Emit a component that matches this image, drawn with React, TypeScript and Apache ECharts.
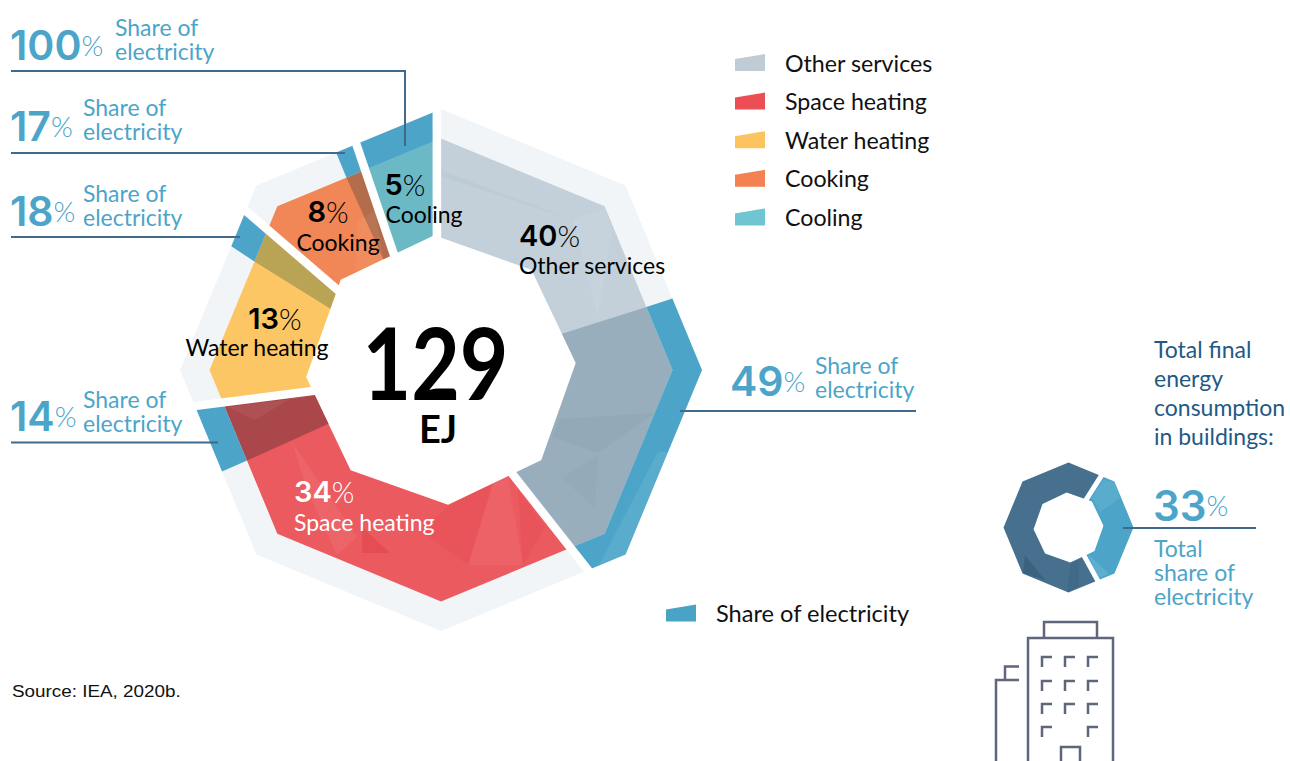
import React, { useEffect, useRef } from "react";
import * as echarts from "echarts";

// ---- data ----
const categories = ["Other services", "Space heating", "Water heating", "Cooking", "Cooling"];
const shareOfTotal = [40, 34, 13, 8, 5];
const electricityShare = [49, 14, 18, 17, 100];
// where each drawn slice actually ends on the 0-100 angle axis (outer / inner edge)
const sliceEndsOuter = [39.94, 72.67, 85.86, 94.28, 99.72];
const sliceEndsInner = [40.5, 72.36, 85.39, 93.78, 99.44];
const totalEJ = "129";
const buildingsShares = [33, 67];

const bandColors = ["#c3d0da", "#eb5a5f", "#fbc663", "#f18656", "#6cb9c6"];
const overlapColors = ["#99aebd", "#a9474a", "#b9a354", "#b46d4c", "#6cb9c6"];
const legendColors = ["#bfccd6", "#ec4e55", "#fbc45f", "#f38151", "#6fc5d1"];
const BLUE = "#4ca5c9";
const RIM = "#f1f5f8";
const SLATE = "#47708f";
const LEADER = "#41698c";
const FONT = "Lato, 'Noto Sans', sans-serif";
const NUMFONT = "Inter, Lato, sans-serif";

// ---- octagon geometry on a polar axis (angle axis runs 0-100) ----
const COS = Math.cos((22.5 * Math.PI) / 180);
function octR(a: number, R: number, rot: number) {
  const rel = (((a - rot) % 12.5) + 12.5) % 12.5;
  return (R * COS) / Math.cos(((rel - 6.25) * 3.6 * Math.PI) / 180);
}
function edge(a0: number, a1: number, R: number, rot: number) {
  const pts: number[][] = [[octR(a0, R, rot), a0]];
  const kStart = Math.floor((a0 - rot) / 12.5) + 1;
  for (let k = kStart; k * 12.5 + rot < a1; k++) pts.push([R, k * 12.5 + rot]);
  pts.push([octR(a1, R, rot), a1]);
  return pts;
}
function ring(api: any, a0o: number, a1o: number, Ro: number, rotO: number, a0i: number, a1i: number, Ri: number, rotI: number) {
  const outer = edge(a0o, a1o, Ro, rotO);
  const inner = edge(a0i, a1i, Ri, rotI).reverse();
  return outer.concat(inner).map((p) => api.coord(p));
}

const R_RIM = 261, R_BAND = 231.5, R_IN = 135, ROT_IN = -0.83;
const starts = (ends: number[]) => ends.map((_, i) => (i === 0 ? ends[4] - 100 : ends[i - 1]));
const startO = starts(sliceEndsOuter);
const startI = starts(sliceEndsInner);
const at = (a: number[], b: number[], i: number, r: number) => {
  const t = (r - R_IN) / (R_RIM - R_IN);
  return b[i] + (a[i] - b[i]) * t;
};

function bandItem(i: number) {
  return (_p: any, api: any) => {
    const share = api.value(1) / 100;
    const a0o = at(startO, startI, i, R_BAND), a1o = at(sliceEndsOuter, sliceEndsInner, i, R_BAND);
    const a0i = startI[i], a1i = sliceEndsInner[i];
    const children: any[] = [
      { type: "polygon", shape: { points: ring(api, a0o, a1o, R_BAND, 0, a0i, a1i, R_IN, ROT_IN) }, style: { fill: bandColors[i] } },
      {
        type: "polygon",
        shape: { points: ring(api, a1o - share * (a1o - a0o), a1o, R_BAND, 0, a1i - share * (a1i - a0i), a1i, R_IN, ROT_IN) },
        style: { fill: overlapColors[i] },
      },
    ];
    return { type: "group", children };
  };
}
function rimItem(_p: any, api: any) {
  const i = api.value(0);
  const a0o = startO[i], a1o = sliceEndsOuter[i];
  const a0i = at(startO, startI, i, R_BAND), a1i = at(sliceEndsOuter, sliceEndsInner, i, R_BAND);
  return { type: "polygon", shape: { points: ring(api, a0o, a1o, R_RIM, 0, a0i, a1i, R_BAND, 0) }, style: { fill: RIM } };
}
function electricRimItem(_p: any, api: any) {
  const i = api.value(0);
  const share = api.value(1) / 100;
  const a0o = startO[i], a1o = sliceEndsOuter[i];
  const a0i = at(startO, startI, i, R_BAND), a1i = at(sliceEndsOuter, sliceEndsInner, i, R_BAND);
  return {
    type: "polygon",
    shape: { points: ring(api, a1o - share * (a1o - a0o), a1o, R_RIM, 0, a1i - share * (a1i - a0i), a1i, R_BAND, 0) },
    style: { fill: BLUE },
  };
}
function gapItem(_p: any, api: any) {
  const i = api.value(0);
  const o = sliceEndsOuter[i], n = sliceEndsInner[i];
  const p0 = api.coord([R_IN - 30, n + (n - o) * (30 / (R_RIM - R_IN))]);
  const p1 = api.coord([R_RIM + 20, o + (o - n) * (20 / (R_RIM - R_IN))]);
  return { type: "line", shape: { x1: p0[0], y1: p0[1], x2: p1[0], y2: p1[1] }, style: { stroke: "#fff", lineWidth: 8.5 } };
}

// ---- small donut ----
const SR = 65, SI = 35;
function smallItem(p: any, api: any) {
  const i = p.dataIndex;
  const a0 = i === 0 ? 9 : 9 + buildingsShares[0];
  const a1 = a0 + buildingsShares[i];
  return {
    type: "polygon",
    shape: { points: ring(api, a0, a1, SR, 0, a0, a1, SI, ROT_IN) },
    style: { fill: i === 0 ? "#4ca5c9" : SLATE },
  };
}
function smallGapItem(_p: any, api: any) {
  const a = api.value(0);
  const p0 = api.coord([SI - 10, a]);
  const p1 = api.coord([SR + 5, a]);
  return { type: "line", shape: { x1: p0[0], y1: p0[1], x2: p1[0], y2: p1[1] }, style: { stroke: "#fff", lineWidth: 5 } };
}

// ---- low-poly texture, purely decorative ----
const facets: [number[][], string, number][] = [
  [[[292, 442], [357, 537], [337, 555], [307, 490]], "#ffffff", 0.06],
  [[[362, 553], [390, 553], [362, 527]], "#d9393f", 0.4],
  [[[468, 565], [493, 483], [508, 478], [523, 565]], "#ffffff", 0.05],
  [[[518, 490], [545, 527], [523, 565]], "#d9393f", 0.15],
  [[[468, 565], [493, 483], [450, 505], [420, 530]], "#d9393f", 0.15],
  [[[560, 419], [655, 413], [598, 453], [552, 437]], "#1f4763", 0.05],
  [[[562, 478], [598, 455], [595, 508]], "#1f4763", 0.035],
  [[[573, 220], [605, 208], [612, 230], [598, 317]], "#ffffff", 0.07],
  [[[440, 170], [573, 220], [440, 176]], "#1f4763", 0.03],
  [[[598, 567], [658, 452], [668, 452], [627, 555]], "#ffffff", 0.08],
  [[[357, 222], [375, 210], [385, 270], [355, 270]], "#ffffff", 0.05],
  [[[227, 407], [255, 420], [292, 398], [316, 396]], "#ffffff", 0.06],
  [[[1025, 555], [1045, 580], [1023, 573]], "#1f4763", 0.3],
  [[[1067, 592], [1071, 562], [1079, 560], [1079, 587]], "#1f4763", 0.15],
  [[[1092, 498], [1103, 480], [1115, 482], [1120, 498], [1100, 512]], "#ffffff", 0.08],
  [[[1088, 554], [1098, 578], [1109, 574]], "#ffffff", 0.1],
];

const facetSeries = {
  type: "custom",
  coordinateSystem: "none",
  silent: true,
  z: 5,
  data: facets.map((_, i) => [i]),
  renderItem: (_p: any, api: any) => {
    const f = facets[api.value(0)];
    return { type: "polygon", shape: { points: f[0] }, style: { fill: f[1], opacity: f[2] } };
  },
};

// ---- texts ----
type Pct = { num: string; x: number; y: number; size: number; pSize: number; color: string; align?: string };
function pctText({ num, x, y, size, pSize, color, align }: Pct) {
  return {
    type: "text",
    x,
    y,
    z: 20,
    style: {
      text: `{a|${num}}{b|%}`,
      align: align || "left",
      verticalAlign: "middle",
      fontFamily: FONT,
      rich: {
        a: { fontFamily: NUMFONT, fontSize: size, fontWeight: 600, fill: color, color },
        b: { fontFamily: FONT, fontSize: pSize, fontWeight: 300, fill: color, color },
      },
    },
  };
}
function label(text: string, x: number, y: number, size: number, color: string, align = "left", weight: any = 400, extra: any = {}, styleExtra: any = {}) {
  return {
    type: "text",
    x,
    y,
    z: 20,
    ...extra,
    style: { text, fill: color, fontFamily: FONT, fontSize: size, fontWeight: weight, align, verticalAlign: "middle", ...styleExtra },
  };
}
// 23px body text, one pixel higher and with a line box that fits the tight leading
function body(text: string, x: number, y: number, color: string, align = "left") {
  return label(text, x, y - 1, 23, color, align, 400, {}, { lineHeight: 22 });
}
function leader(points: number[][]) {
  return { type: "polyline", z: 15, shape: { points }, style: { stroke: LEADER, lineWidth: 2, fill: "none" } };
}
function shareBlock(num: string, yNum: number, xNum: number, xShare: number, y1: number, y2: number) {
  return [
    pctText({ num, x: xNum, y: yNum, size: 41, pSize: 28, color: BLUE }),
    body("Share of", xShare, y1, BLUE),
    body("electricity", xShare, y2, BLUE),
  ];
}

const BUILD = "#5f667b";
function bl(points: number[][], w = 2.5) {
  return { type: "polyline", z: 10, shape: { points }, style: { stroke: BUILD, lineWidth: w, fill: "none" } };
}
const winX = [1042, 1065, 1088];
const winY = [657, 681, 704, 727];
const windows: any[] = [];
winY.forEach((y, r) =>
  winX.forEach((x, c) => {
    if (r === 3 && c === 1) return;
    windows.push(bl([[x + 10, y], [x, y], [x, y + 10]]));
  })
);

const graphics: any[] = [
  ...shareBlock("100", 45, 10, 115, 28, 52),
  ...shareBlock("17", 126, 10, 83, 108, 132),
  ...shareBlock("18", 211, 10, 83, 194, 218),
  ...shareBlock("14", 416, 10, 83, 400, 424),
  ...shareBlock("49", 381, 730, 815, 366, 390),
  leader([[11, 71], [405, 71], [405, 146]]),
  leader([[11, 153], [345, 153]]),
  leader([[11, 237], [240, 237]]),
  leader([[11, 442.5], [218, 442.5]]),
  leader([[680, 411], [916, 411]]),
  leader([[1123, 528], [1256, 528]]),
  pctText({ num: `${shareOfTotal[4]}`, x: 405, y: 184, size: 29, pSize: 29, color: "#000", align: "center" }),
  body(categories[4], 424, 215, "#000", "center"),
  pctText({ num: `${shareOfTotal[3]}`, x: 328, y: 211, size: 29, pSize: 29, color: "#000", align: "center" }),
  body(categories[3], 338, 243, "#000", "center"),
  pctText({ num: `${shareOfTotal[2]}`, x: 275, y: 318, size: 29, pSize: 29, color: "#000", align: "center" }),
  body(categories[2], 257, 348, "#000", "center"),
  pctText({ num: `${shareOfTotal[0]}`, x: 519, y: 235, size: 29, pSize: 29, color: "#000" }),
  body(categories[0], 519, 266, "#000"),
  pctText({ num: `${shareOfTotal[1]}`, x: 294, y: 491, size: 29, pSize: 29, color: "#fff" }),
  body(categories[1], 294, 523, "#fff"),
  label(totalEJ, 435.5, 362, 100, "#000", "center", 700, { scaleX: 0.84 }, { lineHeight: 76 }),
  label("EJ", 438, 428, 38, "#000", "center", 700, {}, { lineHeight: 30 }),
  body("Total final", 1154, 350, "#1f5a85"),
  body("energy", 1154, 379, "#1f5a85"),
  body("consumption", 1154, 408, "#1f5a85"),
  body("in buildings:", 1154, 437, "#1f5a85"),
  pctText({ num: `${buildingsShares[0]}`, x: 1153, y: 505, size: 42, pSize: 28, color: BLUE }),
  body("Total", 1154, 549, BLUE),
  body("share of", 1154, 573, BLUE),
  body("electricity", 1154, 597, BLUE),
  {
    type: "text",
    x: 12,
    y: 691,
    z: 20,
    scaleX: 1.11,
    style: { text: "Source: IEA, 2020b.", fill: "#111", fontFamily: "'Liberation Sans', Arial, sans-serif", fontSize: 17, verticalAlign: "middle" },
  },
  // building pictogram
  bl([[1028, 761], [1028, 638], [1113, 638], [1113, 761]]),
  bl([[1044, 638], [1044, 622], [1097, 622], [1097, 638]]),
  bl([[996, 761], [996, 680], [1019, 680]]),
  bl([[1005, 680], [1005, 666.5], [1019, 666.5]]),
  bl([[1061, 761], [1061, 747], [1080, 747], [1080, 761]]),
  ...windows,
];

const ICON = "path://M0 5 L30 0 L30 17 L0 17 Z";

export default function App() {
  const ref = useRef<HTMLDivElement>(null);
  useEffect(() => {
    document.body.style.margin = "0";
    const chart = echarts.init(ref.current!, undefined, { renderer: "svg" });
    const bandSeries = categories.map((name, i) => ({
      type: "custom",
      name,
      coordinateSystem: "polar",
      polarIndex: 0,
      silent: true,
      z: 3,
      itemStyle: { color: legendColors[i] },
      data: [[shareOfTotal[i], electricityShare[i]]],
      renderItem: bandItem(i),
    }));
    chart.setOption({
      animation: false,
      backgroundColor: "#fff",
      polar: [
        { center: [441, 370], radius: R_RIM },
        { center: [1068.5, 527.5], radius: SR },
      ],
      radiusAxis: [
        { polarIndex: 0, show: false, min: 0, max: R_RIM },
        { polarIndex: 1, show: false, min: 0, max: SR },
      ],
      angleAxis: [
        { polarIndex: 0, show: false, min: 0, max: 100, startAngle: 90, clockwise: true },
        { polarIndex: 1, show: false, min: 0, max: 100, startAngle: 90, clockwise: true },
      ],
      legend: [
        {
          left: 730,
          top: 46,
          orient: "vertical",
          icon: ICON,
          itemWidth: 30,
          itemHeight: 17,
          itemGap: 15.6,
          selectedMode: false,
          data: categories,
          textStyle: { fontFamily: FONT, fontSize: 23.2, color: "#111", padding: [0, 0, 0, 15] },
        } as any,
        {
          left: 661,
          top: 596,
          icon: ICON,
          itemWidth: 30,
          itemHeight: 17,
          selectedMode: false,
          data: ["Share of electricity"],
          textStyle: { fontFamily: FONT, fontSize: 23.6, color: "#111", padding: [0, 0, 0, 15] },
        } as any,
      ],
      series: [
        {
          type: "custom",
          coordinateSystem: "polar",
          polarIndex: 0,
          silent: true,
          z: 2,
          data: categories.map((_, i) => [i, 0]),
          renderItem: rimItem,
        },
        ...bandSeries,
        {
          type: "custom",
          name: "Share of electricity",
          coordinateSystem: "polar",
          polarIndex: 0,
          silent: true,
          z: 4,
          itemStyle: { color: "#48a3c6" },
          data: electricityShare.map((v, i) => [i, v]),
          renderItem: electricRimItem,
        },
        {
          type: "custom",
          coordinateSystem: "polar",
          polarIndex: 1,
          silent: true,
          z: 3,
          data: buildingsShares.map((v) => [v, 0]),
          renderItem: smallItem,
        },
        facetSeries,
        {
          type: "custom",
          coordinateSystem: "polar",
          polarIndex: 0,
          silent: true,
          z: 6,
          data: categories.map((_, i) => [i, 0]),
          renderItem: gapItem,
        },
        {
          type: "custom",
          coordinateSystem: "polar",
          polarIndex: 1,
          silent: true,
          z: 6,
          data: [[9, 0], [9 + buildingsShares[0], 0]],
          renderItem: smallGapItem,
        },
      ],
      graphic: { elements: graphics },
    } as any);
    return () => chart.dispose();
  }, []);
  return <div ref={ref} style={{ position: "absolute", left: 0, top: 0, width: 1290, height: 761 }} />;
}
